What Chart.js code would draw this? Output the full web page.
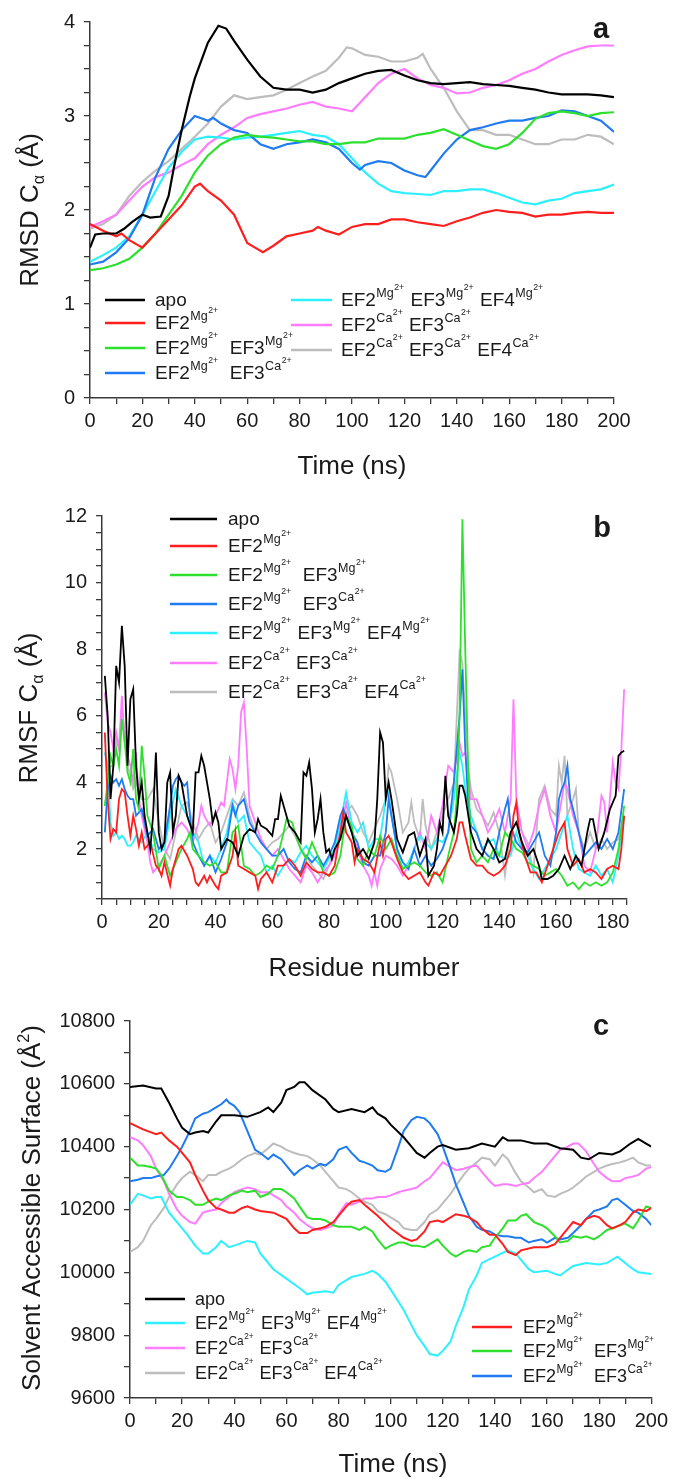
<!DOCTYPE html>
<html>
<head>
<meta charset="utf-8">
<script src="https://cdn.jsdelivr.net/npm/chart.js@4.4.1/dist/chart.umd.min.js"></script>
<style>
  html, body { margin: 0; padding: 0; background: #fff; }
  #wrap { position: relative; width: 673px; height: 1479px; }
  canvas { position: absolute; left: 0; }
</style>
</head>
<body>
<div id="wrap">
  <canvas id="chartA" width="673" height="480" style="top:0px"></canvas>
  <canvas id="chartB" width="673" height="500" style="top:480px"></canvas>
  <canvas id="chartC" width="673" height="499" style="top:980px"></canvas>
</div>
<script>
// series labels: [Ion] = superscript ion with 2+ on top
const seriesNames = ['apo', 'EF2[Mg]', 'EF2[Mg]  EF3[Mg]', 'EF2[Mg]  EF3[Ca]',
  'EF2[Mg] EF3[Mg] EF4[Mg]', 'EF2[Ca] EF3[Ca]', 'EF2[Ca] EF3[Ca] EF4[Ca]'];
const seriesColors = ['#000000', '#ff1e1e', '#2ee02e', '#1f7bf2', '#2cf0ff', '#ff7cff', '#bdbdbd'];

// ---- panel a: RMSD (ns, Å) ----
const rmsdApo = [[0,1.6],[2,1.74],[5,1.75],[10,1.75],[13,1.8],[16,1.87],[20,1.95],[23,1.92],[27,1.93],[30,2.15],[32,2.45],[35,2.85],[38,3.2],[40,3.4],[45,3.78],[49,3.96],[52,3.93],[55,3.8],[60,3.6],[65,3.42],[70,3.3],[75,3.28],[80,3.28],[85,3.25],[90,3.28],[95,3.35],[100,3.4],[105,3.45],[110,3.48],[115,3.49],[120,3.43],[125,3.38],[130,3.35],[135,3.34],[140,3.35],[145,3.36],[150,3.34],[155,3.33],[160,3.32],[165,3.3],[170,3.28],[175,3.25],[180,3.23],[185,3.23],[190,3.23],[195,3.22],[200,3.2]];
const rmsdMg = [[0,1.85],[5,1.78],[10,1.72],[12,1.75],[15,1.68],[20,1.6],[25,1.75],[30,1.9],[35,2.05],[40,2.25],[42,2.28],[45,2.2],[50,2.1],[55,1.95],[60,1.65],[63,1.6],[66,1.55],[70,1.62],[75,1.72],[80,1.75],[85,1.78],[87,1.82],[90,1.78],[95,1.74],[100,1.82],[105,1.85],[110,1.85],[115,1.9],[120,1.9],[125,1.87],[130,1.85],[135,1.83],[140,1.88],[145,1.92],[150,1.97],[155,2.0],[160,1.98],[165,1.97],[170,1.93],[175,1.95],[180,1.95],[185,1.97],[190,1.98],[195,1.97],[200,1.97]];
const rmsdMgMg = [[0,1.36],[5,1.38],[10,1.42],[15,1.48],[20,1.6],[25,1.75],[30,1.95],[35,2.15],[40,2.4],[45,2.58],[50,2.7],[55,2.77],[60,2.8],[65,2.78],[70,2.77],[75,2.75],[80,2.73],[85,2.73],[90,2.7],[95,2.7],[100,2.72],[105,2.72],[110,2.76],[115,2.76],[120,2.76],[125,2.8],[130,2.82],[135,2.86],[140,2.8],[145,2.74],[150,2.68],[155,2.65],[160,2.7],[165,2.82],[170,2.97],[175,3.03],[180,3.05],[185,3.03],[190,3.0],[195,3.03],[200,3.04]];
const rmsdMgCa = [[0,1.42],[5,1.45],[10,1.55],[15,1.7],[20,1.95],[25,2.35],[30,2.65],[35,2.85],[40,3.0],[43,2.97],[45,2.95],[47,2.98],[50,2.92],[55,2.85],[60,2.82],[65,2.7],[70,2.65],[75,2.7],[80,2.72],[85,2.75],[90,2.72],[95,2.65],[100,2.5],[103,2.43],[105,2.48],[110,2.52],[115,2.5],[120,2.42],[125,2.37],[128,2.35],[130,2.42],[135,2.6],[140,2.75],[145,2.85],[150,2.88],[155,2.92],[160,2.95],[165,2.95],[170,2.98],[175,3.0],[180,3.06],[185,3.05],[190,3.0],[195,2.95],[200,2.83]];
const rmsdMgMgMg = [[0,1.45],[5,1.52],[10,1.6],[15,1.72],[20,1.95],[25,2.2],[30,2.45],[35,2.62],[40,2.75],[45,2.78],[50,2.77],[55,2.75],[60,2.77],[65,2.78],[70,2.8],[75,2.82],[80,2.84],[85,2.8],[90,2.78],[95,2.7],[100,2.55],[105,2.4],[110,2.28],[115,2.2],[120,2.18],[125,2.17],[130,2.16],[135,2.2],[140,2.2],[145,2.22],[150,2.22],[155,2.18],[160,2.13],[165,2.08],[170,2.06],[175,2.1],[180,2.12],[185,2.18],[190,2.2],[195,2.22],[200,2.27]];
const rmsdCaCa = [[0,1.82],[5,1.88],[10,1.95],[15,2.1],[20,2.25],[25,2.35],[30,2.4],[35,2.48],[40,2.55],[45,2.7],[50,2.8],[55,2.88],[60,2.98],[65,3.02],[70,3.05],[75,3.08],[80,3.12],[85,3.15],[90,3.1],[95,3.08],[100,3.05],[105,3.2],[110,3.35],[115,3.45],[120,3.5],[125,3.4],[130,3.33],[135,3.3],[140,3.24],[145,3.25],[150,3.3],[155,3.33],[160,3.38],[165,3.45],[170,3.5],[175,3.58],[180,3.65],[185,3.7],[190,3.74],[195,3.75],[200,3.75]];
const rmsdCaCaCa = [[0,1.8],[5,1.85],[10,1.95],[15,2.15],[20,2.3],[25,2.42],[30,2.52],[35,2.65],[40,2.78],[45,2.92],[50,3.1],[55,3.22],[60,3.18],[65,3.2],[70,3.22],[75,3.28],[80,3.35],[85,3.42],[90,3.48],[95,3.62],[98,3.73],[100,3.72],[105,3.65],[110,3.63],[115,3.58],[120,3.58],[125,3.62],[127,3.66],[130,3.5],[135,3.3],[140,3.05],[145,2.85],[150,2.85],[155,2.8],[160,2.8],[165,2.75],[170,2.7],[175,2.7],[180,2.75],[185,2.75],[190,2.8],[195,2.78],[200,2.7]];

// ---- panel b: RMSF per residue (Å) ----
const rmsfApo = [[1,7.2],[2,6.0],[3,3.5],[4,4.5],[5,7.5],[6,7.0],[7,8.7],[8,7.5],[9,4.5],[10,6.5],[11,6.8],[12,4.5],[13,3.5],[14,4.0],[15,3.0],[16,2.5],[17,2.0],[18,3.0],[19,4.9],[20,2.5],[21,2.0],[22,2.2],[23,4.0],[24,4.3],[25,2.5],[26,3.0],[27,4.2],[28,4.0],[29,3.5],[30,3.0],[32,2.5],[33,4.3],[34,4.3],[35,4.8],[36,4.5],[37,4.0],[38,3.5],[39,2.8],[40,3.1],[41,2.8],[42,2.0],[44,2.3],[46,2.2],[48,1.8],[50,2.4],[52,2.6],[54,2.5],[55,2.9],[56,2.7],[58,2.6],[60,2.4],[61,2.9],[62,2.9],[63,3.6],[64,3.3],[65,3.0],[66,2.7],[68,2.5],[70,2.2],[71,4.3],[72,4.2],[73,4.6],[74,3.8],[75,2.5],[76,2.9],[77,3.5],[78,2.5],[79,1.9],[80,2.0],[81,1.7],[82,2.0],[84,2.3],[86,3.0],[88,2.5],[90,1.8],[92,2.0],[94,1.7],[96,2.2],[97,3.5],[98,5.5],[99,5.2],[100,3.5],[101,4.0],[102,3.5],[104,2.3],[106,1.9],[108,2.4],[110,2.5],[112,1.8],[114,2.3],[115,1.2],[117,1.5],[118,2.0],[119,2.8],[120,2.5],[121,4.2],[122,3.0],[124,2.5],[125,3.0],[126,3.9],[127,3.9],[128,3.6],[130,2.5],[132,2.0],[134,1.8],[136,2.3],[138,2.0],[140,1.6],[142,1.7],[144,2.5],[146,2.8],[148,2.2],[150,1.8],[152,2.0],[154,1.5],[155,1.1],[157,1.1],[159,1.2],[161,1.4],[163,1.8],[165,1.4],[167,1.8],[169,1.5],[171,2.5],[172,2.9],[173,2.9],[175,2.0],[177,2.5],[179,3.2],[181,3.6],[182,4.8],[183,4.9],[184,4.95]];
const rmsfMg = [[1,5.5],[2,3.5],[3,2.3],[4,2.6],[5,2.5],[6,3.5],[7,3.8],[8,3.7],[9,3.0],[10,2.4],[11,3.0],[12,2.6],[13,2.1],[14,2.5],[15,2.0],[17,2.2],[19,1.5],[20,1.4],[21,1.2],[22,1.6],[24,0.9],[25,1.4],[27,2.0],[28,2.1],[30,1.8],[32,1.4],[33,1.0],[34,0.9],[36,1.2],[37,1.0],[38,1.2],[40,0.9],[41,0.8],[42,1.2],[44,1.3],[46,1.8],[47,2.5],[48,1.5],[50,1.4],[52,1.3],[54,1.2],[55,0.8],[56,1.1],[58,1.3],[60,1.0],[62,1.5],[64,1.5],[66,1.7],[68,1.5],[70,1.2],[72,1.6],[74,1.4],[76,1.3],[78,1.3],[80,1.2],[82,1.5],[84,2.5],[85,3.1],[86,2.5],[88,2.2],[89,1.6],[90,2.0],[92,1.7],[94,1.6],[96,1.3],[98,2.2],[99,1.8],[100,2.3],[101,2.4],[102,2.2],[104,1.7],[106,1.3],[108,1.1],[110,1.2],[112,1.3],[114,1.0],[115,0.9],[117,1.3],[119,1.2],[121,1.5],[123,1.8],[125,2.3],[126,2.8],[127,2.8],[128,2.4],[130,1.7],[132,1.5],[134,1.5],[136,1.3],[138,1.2],[140,1.3],[142,1.5],[144,2.0],[145,3.0],[146,3.4],[147,2.5],[149,1.8],[151,1.3],[153,1.3],[155,1.0],[157,1.5],[159,2.0],[161,2.5],[163,2.8],[164,2.0],[166,1.5],[168,1.7],[170,1.3],[172,1.4],[174,1.3],[176,1.1],[178,1.4],[180,1.5],[182,1.4],[183,2.0],[184,3.0]];
const rmsfMgMg = [[1,3.3],[2,4.0],[3,4.8],[4,4.5],[5,5.0],[6,4.5],[7,5.9],[8,5.2],[9,4.3],[10,4.0],[11,5.0],[12,3.5],[13,3.2],[14,5.1],[15,4.2],[16,3.0],[18,2.5],[20,1.4],[22,1.8],[24,1.2],[26,1.6],[28,2.0],[30,2.3],[31,2.5],[32,2.0],[34,1.8],[36,1.6],[38,1.5],[40,1.6],[42,1.3],[44,1.3],[46,2.5],[48,2.7],[50,1.5],[52,1.4],[54,1.2],[56,1.3],[58,1.5],[60,1.4],[62,1.8],[64,2.5],[65,2.9],[67,2.8],[68,2.5],[70,2.0],[72,1.7],[74,2.2],[76,1.8],[78,1.3],[80,1.2],[82,1.3],[84,1.8],[86,3.0],[88,2.7],[90,1.7],[92,1.5],[94,2.0],[96,1.8],[98,2.4],[100,2.0],[102,2.3],[104,1.8],[106,1.4],[108,1.5],[110,1.6],[112,1.5],[114,1.3],[116,1.2],[118,1.3],[120,1.0],[122,1.8],[124,2.5],[125,3.5],[126,6.0],[127,11.9],[128,8.0],[129,4.5],[130,2.0],[132,1.6],[134,1.8],[136,1.6],[138,2.0],[140,1.8],[142,2.5],[144,2.3],[146,2.0],[148,1.9],[150,1.6],[152,1.5],[154,1.4],[156,1.2],[158,1.3],[160,1.4],[162,1.2],[164,0.9],[166,1.0],[168,0.8],[170,1.0],[172,0.9],[174,1.0],[176,0.9],[178,1.0],[180,1.3],[182,2.0],[184,3.3]];
const rmsfMgCa = [[1,2.5],[2,3.8],[3,4.2],[4,4.0],[5,4.1],[6,3.9],[7,4.1],[8,3.8],[9,3.6],[10,3.5],[11,3.5],[12,3.0],[14,3.2],[16,2.4],[18,2.6],[20,2.0],[22,2.2],[24,3.3],[25,3.9],[26,4.1],[27,4.2],[28,4.0],[29,3.9],[30,4.0],[31,3.0],[32,2.2],[34,1.8],[36,1.5],[38,1.8],[40,1.3],[42,1.7],[44,2.2],[46,3.3],[47,3.0],[48,3.3],[50,3.5],[52,2.8],[54,2.5],[56,2.2],[58,2.0],[60,1.8],[62,1.8],[64,2.0],[66,1.6],[68,1.4],[70,1.3],[72,1.8],[74,1.6],[76,1.8],[78,1.5],[80,1.8],[82,2.2],[84,3.0],[85,3.2],[86,3.0],[88,2.5],[90,2.2],[92,1.6],[94,1.5],[96,1.8],[98,1.8],[100,2.5],[101,3.5],[102,3.0],[104,2.0],[106,1.6],[108,1.4],[110,2.0],[112,1.5],[114,1.8],[116,1.5],[118,1.7],[120,2.0],[122,2.5],[124,4.0],[126,6.0],[127,7.4],[128,5.0],[129,3.5],[130,2.7],[132,2.5],[134,2.0],[136,1.8],[138,1.7],[140,2.5],[142,3.2],[143,3.5],[144,2.7],[146,2.2],[148,2.0],[150,1.9],[152,2.2],[154,2.5],[156,1.8],[158,1.5],[160,2.5],[161,3.5],[162,3.8],[163,4.0],[164,4.5],[165,3.5],[166,3.2],[168,2.5],[170,1.8],[172,2.0],[174,2.2],[176,2.0],[178,2.3],[180,2.0],[182,2.5],[184,3.8]];
const rmsfMgMgMg = [[1,4.9],[2,4.5],[3,2.8],[4,2.4],[5,2.5],[6,2.3],[7,2.4],[8,2.3],[9,2.1],[10,2.1],[11,2.2],[12,2.4],[13,2.3],[14,2.2],[16,2.5],[18,2.0],[20,1.9],[22,2.0],[24,3.0],[26,3.8],[28,3.3],[30,3.0],[32,2.5],[34,2.2],[36,1.5],[38,1.8],[40,1.6],[42,2.0],[44,2.5],[46,3.4],[48,2.8],[50,3.0],[52,2.2],[54,2.0],[56,1.8],[58,1.3],[60,1.5],[62,1.2],[64,1.5],[66,1.7],[68,1.6],[70,1.9],[72,2.1],[74,1.8],[76,1.6],[78,1.4],[80,1.7],[82,2.0],[84,2.8],[86,3.7],[88,2.8],[90,2.5],[92,2.8],[94,2.0],[96,2.3],[98,2.3],[100,3.5],[101,3.7],[102,3.0],[104,2.0],[106,1.4],[108,1.6],[110,2.0],[112,2.4],[114,2.2],[116,2.0],[118,2.3],[120,2.2],[122,2.5],[124,3.5],[126,4.9],[127,4.5],[128,3.8],[130,3.0],[132,2.5],[134,2.0],[136,2.2],[138,2.3],[140,1.8],[142,1.7],[144,1.8],[146,2.5],[148,2.0],[150,1.8],[152,1.4],[154,1.1],[156,1.4],[158,1.7],[160,2.0],[162,2.5],[164,3.0],[166,2.0],[168,1.4],[170,1.3],[172,1.2],[174,1.5],[176,1.2],[178,1.4],[180,1.0],[182,1.8],[184,3.0]];
const rmsfCaCa = [[1,6.7],[2,5.8],[3,5.5],[4,5.0],[5,5.5],[6,5.0],[7,6.6],[8,5.2],[9,4.8],[10,4.5],[11,4.0],[12,4.9],[13,3.5],[14,3.0],[15,2.6],[16,2.2],[17,1.6],[18,1.3],[20,1.5],[22,1.8],[24,2.2],[26,2.6],[28,2.8],[30,2.6],[32,2.2],[34,2.8],[35,3.3],[36,3.0],[38,2.7],[40,3.0],[42,3.4],[43,3.3],[44,4.0],[45,4.7],[46,4.4],[47,3.8],[48,4.5],[49,6.1],[50,6.4],[51,5.0],[52,3.3],[54,2.8],[56,2.3],[58,2.0],[60,1.8],[62,2.0],[64,1.7],[66,1.4],[68,1.2],[70,1.0],[72,1.5],[74,1.3],[76,1.0],[78,1.3],[80,1.5],[82,1.8],[84,2.5],[86,3.4],[88,2.5],[90,2.0],[92,1.5],[94,1.2],[95,0.9],[96,1.3],[97,0.9],[98,1.4],[100,1.8],[102,1.7],[104,1.5],[106,1.2],[108,1.5],[110,2.0],[112,2.5],[114,2.0],[116,3.0],[118,2.5],[120,3.3],[122,4.5],[124,4.3],[126,5.2],[127,4.8],[128,4.9],[129,4.3],[130,3.5],[132,3.5],[134,3.0],[136,2.5],[138,2.8],[140,3.2],[142,2.5],[144,3.5],[145,6.5],[146,3.5],[148,2.5],[150,2.0],[152,2.5],[154,3.3],[156,3.8],[158,3.0],[160,2.5],[162,3.5],[163,4.0],[164,3.8],[166,3.0],[168,2.5],[170,1.5],[172,1.3],[174,2.0],[176,3.6],[177,3.4],[178,2.5],[180,4.6],[181,4.0],[182,3.8],[183,5.0],[184,6.8]];
const rmsfCaCaCa = [[1,3.3],[2,3.8],[3,4.5],[4,4.5],[5,5.3],[6,5.0],[7,6.2],[8,5.5],[9,4.5],[10,4.2],[11,3.8],[12,4.0],[14,3.5],[16,3.5],[18,3.8],[20,2.8],[22,2.0],[24,1.7],[26,2.5],[28,3.3],[30,3.4],[32,2.8],[34,2.3],[36,2.6],[38,2.8],[40,2.2],[42,2.5],[44,3.0],[46,3.5],[48,3.3],[50,3.7],[52,3.0],[54,2.5],[56,2.2],[58,2.0],[60,2.2],[62,2.3],[64,2.5],[66,2.7],[68,2.4],[70,2.0],[72,1.8],[74,1.5],[76,1.3],[78,1.1],[80,1.5],[82,2.0],[84,2.5],[86,3.1],[88,3.3],[90,3.0],[92,2.5],[94,2.2],[96,2.6],[98,3.0],[100,3.5],[101,4.5],[102,4.3],[104,3.5],[106,2.5],[108,2.8],[109,3.4],[110,2.8],[112,2.3],[113,3.5],[114,2.7],[116,2.0],[118,2.5],[120,3.0],[122,3.5],[124,4.0],[126,7.9],[127,7.6],[128,6.0],[129,4.5],[130,3.8],[132,3.2],[134,3.0],[136,2.7],[138,3.1],[140,2.5],[142,1.2],[144,2.5],[146,2.8],[148,2.5],[150,2.2],[152,1.3],[154,3.5],[156,3.9],[158,3.2],[160,3.0],[161,4.5],[162,4.0],[163,4.8],[164,3.0],[166,3.5],[167,3.8],[168,2.5],[170,2.0],[172,2.5],[174,2.0],[176,2.3],[178,2.0],[180,2.2],[182,2.3],[184,3.0]];

// ---- panel c: SASA (ns, Å²) ----
const sasaApo = [[0,10590],[5,10595],[10,10585],[12,10585],[15,10540],[18,10490],[20,10460],[23,10440],[25,10445],[28,10450],[30,10445],[33,10480],[35,10500],[40,10500],[45,10495],[50,10510],[53,10525],[55,10510],[58,10540],[60,10580],[63,10590],[65,10605],[67,10605],[70,10580],[75,10550],[78,10520],[80,10510],[85,10520],[90,10510],[93,10525],[95,10505],[98,10490],[100,10470],[105,10430],[108,10400],[110,10380],[113,10365],[115,10380],[118,10400],[120,10405],[125,10390],[130,10395],[135,10410],[140,10400],[143,10430],[145,10420],[150,10420],[155,10410],[160,10410],[165,10395],[170,10390],[173,10365],[176,10360],[180,10380],[185,10375],[188,10385],[192,10410],[195,10425],[198,10410],[200,10400]];
const sasaMg = [[0,10475],[5,10455],[10,10440],[12,10445],[15,10420],[18,10400],[20,10380],[23,10350],[25,10310],[28,10260],[30,10230],[33,10205],[35,10200],[38,10190],[40,10190],[43,10205],[45,10210],[48,10200],[50,10195],[55,10190],[60,10170],[63,10140],[65,10125],[68,10125],[70,10135],[73,10140],[75,10145],[78,10160],[80,10180],[83,10210],[85,10225],[88,10230],[90,10215],[95,10180],[100,10140],[105,10110],[108,10100],[110,10105],[113,10130],[115,10160],[118,10165],[120,10160],[123,10175],[125,10185],[128,10180],[130,10175],[133,10160],[135,10140],[138,10120],[140,10120],[143,10090],[145,10065],[148,10055],[150,10070],[155,10080],[160,10080],[163,10090],[165,10110],[168,10140],[170,10160],[173,10150],[175,10170],[178,10180],[180,10175],[183,10150],[185,10140],[188,10150],[190,10160],[193,10190],[195,10200],[198,10195],[200,10205]];
const sasaMgMg = [[0,10365],[3,10340],[5,10340],[8,10335],[10,10330],[12,10310],[15,10260],[18,10240],[20,10240],[23,10230],[25,10215],[28,10215],[30,10225],[33,10235],[35,10230],[38,10245],[40,10250],[43,10260],[45,10255],[48,10260],[50,10240],[53,10250],[55,10265],[58,10265],[60,10255],[63,10235],[65,10210],[68,10175],[70,10170],[73,10170],[75,10165],[78,10150],[80,10145],[85,10145],[88,10135],[90,10145],[93,10130],[95,10105],[98,10075],[100,10085],[103,10095],[105,10095],[108,10085],[110,10085],[113,10080],[115,10090],[118,10105],[120,10085],[123,10060],[125,10050],[128,10065],[130,10070],[133,10065],[135,10080],[138,10085],[140,10110],[143,10140],[145,10165],[148,10165],[150,10180],[152,10185],[155,10160],[158,10150],[160,10140],[163,10115],[165,10095],[168,10100],[170,10115],[173,10110],[175,10115],[178,10105],[180,10115],[183,10135],[185,10140],[188,10150],[190,10155],[193,10140],[195,10165],[198,10210],[200,10205]];
const sasaMgCa = [[0,10290],[3,10295],[5,10300],[8,10300],[10,10305],[13,10310],[15,10330],[18,10370],[20,10400],[23,10450],[25,10490],[28,10505],[30,10510],[33,10525],[35,10535],[37,10550],[38,10540],[40,10530],[42,10510],[45,10450],[48,10390],[50,10380],[53,10360],[55,10375],[58,10360],[60,10340],[63,10310],[65,10325],[68,10340],[70,10330],[73,10345],[75,10340],[78,10360],[80,10390],[83,10400],[85,10380],[88,10355],[90,10350],[93,10340],[95,10325],[98,10320],[100,10330],[103,10400],[105,10450],[108,10485],[110,10495],[113,10490],[115,10475],[118,10440],[120,10400],[123,10330],[125,10280],[128,10220],[130,10180],[133,10145],[135,10135],[138,10130],[140,10120],[143,10115],[145,10115],[148,10110],[150,10110],[153,10095],[155,10100],[158,10105],[160,10095],[163,10110],[165,10105],[168,10110],[170,10125],[173,10150],[175,10170],[178,10195],[180,10200],[183,10210],[185,10230],[187,10235],[190,10215],[193,10195],[195,10190],[198,10170],[200,10150]];
const sasaMgMgMg = [[0,10215],[3,10250],[5,10245],[8,10235],[10,10240],[12,10240],[15,10190],[20,10140],[22,10120],[25,10085],[28,10060],[30,10060],[33,10080],[35,10100],[38,10080],[40,10085],[45,10100],[48,10095],[50,10060],[55,10010],[60,9980],[65,9950],[68,9930],[70,9935],[75,9940],[78,9935],[80,9960],[85,9985],[90,9995],[93,10005],[95,9995],[98,9970],[100,9945],[105,9880],[110,9800],[113,9765],[115,9740],[118,9735],[120,9750],[123,9780],[125,9830],[128,9890],[130,9945],[133,9990],[135,10030],[140,10050],[145,10070],[148,10060],[150,10040],[153,10010],[155,10000],[160,10005],[163,9995],[165,9990],[170,10020],[175,10030],[180,10025],[183,10030],[187,10050],[190,10030],[193,10010],[195,10000],[200,9995]];
const sasaCaCa = [[0,10430],[3,10420],[5,10405],[8,10370],[10,10330],[13,10290],[15,10250],[18,10200],[20,10180],[23,10160],[25,10155],[28,10190],[30,10195],[33,10200],[35,10220],[38,10240],[40,10255],[43,10265],[45,10270],[48,10265],[50,10255],[53,10255],[55,10245],[58,10230],[60,10210],[63,10190],[65,10170],[68,10150],[70,10140],[73,10135],[75,10140],[78,10150],[80,10185],[83,10220],[85,10215],[88,10225],[90,10235],[93,10235],[95,10240],[98,10240],[100,10245],[103,10255],[105,10260],[108,10265],[110,10270],[113,10290],[115,10300],[118,10330],[120,10350],[122,10340],[125,10325],[128,10330],[130,10335],[133,10340],[135,10320],[138,10290],[140,10275],[143,10280],[145,10280],[148,10275],[150,10280],[153,10285],[155,10300],[158,10320],[160,10340],[163,10370],[165,10390],[168,10400],[170,10410],[172,10410],[175,10385],[178,10345],[180,10320],[183,10300],[185,10290],[188,10290],[190,10300],[193,10305],[195,10310],[198,10330],[200,10335]];
const sasaCaCaCa = [[0,10065],[3,10080],[5,10100],[8,10150],[10,10170],[13,10205],[15,10240],[18,10280],[20,10300],[23,10320],[25,10310],[28,10290],[30,10310],[33,10310],[35,10320],[38,10330],[40,10340],[43,10360],[45,10370],[48,10380],[50,10375],[53,10395],[55,10410],[58,10400],[60,10390],[63,10380],[65,10375],[68,10370],[70,10360],[73,10340],[75,10320],[78,10290],[80,10270],[83,10265],[85,10255],[88,10235],[90,10225],[93,10215],[95,10195],[98,10185],[100,10175],[103,10160],[105,10140],[108,10135],[110,10135],[113,10160],[115,10185],[118,10200],[120,10220],[123,10250],[125,10275],[128,10310],[130,10330],[133,10350],[135,10365],[138,10360],[140,10340],[143,10375],[145,10360],[148,10315],[150,10290],[153,10270],[155,10255],[158,10265],[160,10245],[163,10240],[165,10250],[168,10260],[170,10270],[173,10290],[175,10305],[178,10320],[180,10330],[183,10340],[185,10345],[188,10350],[190,10355],[193,10365],[195,10350],[198,10340],[200,10340]];

const FONT = '"Liberation Sans", Arial, Helvetica, sans-serif';
const AXIS = '#3a3a3a';
const INK = '#1a1a1a';

// text with superscript ions, e.g. EF2[Mg] -> EF2^Mg^2+
function drawRich(ctx, str, x, y, fs) {
  const parts = str.split(/(\[\w+\])/).filter(p => p !== '');
  let cx = x;
  ctx.textAlign = 'left';
  ctx.textBaseline = 'alphabetic';
  parts.forEach(p => {
    if (p[0] === '[') {
      const ion = p.slice(1, -1);
      ctx.font = (fs * 0.66) + 'px ' + FONT;
      ctx.fillText(ion, cx + 0.5, y - fs * 0.5);
      cx += ctx.measureText(ion).width + 0.5;
      ctx.font = (fs * 0.46) + 'px ' + FONT;
      ctx.fillText('2+', cx + 0.5, y - fs * 0.85);
      cx += ctx.measureText('2+').width + 1.5;
    } else {
      ctx.font = fs + 'px ' + FONT;
      ctx.fillText(p, cx, y);
      cx += ctx.measureText(p).width;
    }
  });
}

// title made of segments {t, sub, sup}; rotated if vertical
function drawTitle(ctx, segs, cx, cy, fs, vertical) {
  ctx.save();
  ctx.translate(cx, cy);
  if (vertical) ctx.rotate(-Math.PI / 2);
  ctx.textBaseline = 'alphabetic';
  ctx.textAlign = 'left';
  const sizeOf = s => (s.sub || s.sup) ? fs * 0.62 : fs;
  let total = 0;
  segs.forEach(s => { ctx.font = sizeOf(s) + 'px ' + FONT; total += ctx.measureText(s.t).width; });
  let x = -total / 2;
  const base = fs * 0.36;
  segs.forEach(s => {
    ctx.font = sizeOf(s) + 'px ' + FONT;
    let dy = 0;
    if (s.sub) dy = fs * 0.22;
    if (s.sup) dy = -fs * 0.45;
    ctx.fillText(s.t, x, base + dy);
    x += ctx.measureText(s.t).width;
  });
  ctx.restore();
}

const decorPlugin = {
  id: 'decor',
  afterDraw(chart) {
    const o = chart.options.plugins.decor;
    const ctx = chart.ctx;
    ctx.save();
    ctx.fillStyle = INK;
    o.legend.forEach(it => {
      ctx.strokeStyle = seriesColors[it.s];
      ctx.lineWidth = 2.6;
      ctx.beginPath();
      ctx.moveTo(it.x1, it.y);
      ctx.lineTo(it.x2, it.y);
      ctx.stroke();
      drawRich(ctx, seriesNames[it.s], it.tx, it.y + o.legendFont * 0.33, o.legendFont);
    });
    drawTitle(ctx, o.yTitle, o.yTitleX, o.yTitleY, 26, true);
    drawTitle(ctx, [{ t: o.xTitle }], o.xTitleX, o.xTitleY, 26, false);
    ctx.font = 'bold 29px ' + FONT;
    ctx.textAlign = 'center';
    ctx.textBaseline = 'alphabetic';
    ctx.fillText(o.letter, o.letterX, o.letterY);
    ctx.restore();
  }
};

function legendCol(series, x1, x2, tx, ys) {
  return series.map((s, i) => ({ s: s, x1: x1, x2: x2, tx: tx, y: ys[i] }));
}

function makeChart(id, p) {
  const canvas = document.getElementById(id);
  const W = canvas.width, H = canvas.height;
  const tickFont = { family: FONT, size: 20 };
  const gridStyle = { drawOnChartArea: false, drawTicks: true, tickLength: 6, color: AXIS, lineWidth: 1.3 };
  return new Chart(canvas, {
    type: 'line',
    data: {
      datasets: p.series.map((pts, i) => ({
        label: seriesNames[i],
        data: pts.map(d => ({ x: d[0], y: d[1] })),
        borderColor: seriesColors[i],
        borderWidth: p.lineWidth,
        pointRadius: 0,
        tension: 0,
        fill: false
      }))
    },
    options: {
      responsive: false,
      animation: false,
      devicePixelRatio: 1,
      layout: { padding: { left: 0, top: p.top, right: W - p.right, bottom: 0 } },
      scales: {
        x: {
          type: 'linear', min: p.xMin, max: p.xMax,
          afterFit: s => { s.height = H - p.bottom; },
          ticks: {
            stepSize: p.xStep, autoSkip: false, maxRotation: 0, font: tickFont, color: INK, padding: 5,
            callback: v => (Math.abs(v % p.xLabelEvery) < 1e-6 ? String(v) : '')
          },
          grid: gridStyle,
          border: { color: AXIS, width: 1.5 }
        },
        y: {
          type: 'linear', min: p.yMin, max: p.yMax,
          afterFit: s => { s.width = p.left; },
          ticks: {
            stepSize: p.yStep, autoSkip: false, font: tickFont, color: INK, padding: 9,
            callback: v => (Math.abs(v % p.yLabelEvery) < 1e-6 ? String(v) : '')
          },
          grid: gridStyle,
          border: { color: AXIS, width: 1.5 }
        }
      },
      plugins: {
        legend: { display: false },
        tooltip: { enabled: false },
        decor: p.decor
      }
    },
    plugins: [decorPlugin]
  });
}

makeChart('chartA', {
  series: [rmsdApo, rmsdMg, rmsdMgMg, rmsdMgCa, rmsdMgMgMg, rmsdCaCa, rmsdCaCaCa],
  lineWidth: 2.2,
  left: 90, right: 614, top: 22, bottom: 398,
  xMin: 0, xMax: 200, xStep: 10, xLabelEvery: 20,
  yMin: 0, yMax: 4, yStep: 0.25, yLabelEvery: 1,
  decor: {
    legendFont: 19,
    legend: legendCol([0, 1, 2, 3], 105, 145, 155, [300, 323, 348, 373])
      .concat(legendCol([4, 5, 6], 291, 332, 341, [300, 325, 350])),
    yTitle: [{ t: 'RMSD C' }, { t: '\u03b1', sub: true }, { t: ' (\u00c5)' }],
    yTitleX: 29, yTitleY: 210,
    xTitle: 'Time (ns)', xTitleX: 352, xTitleY: 465,
    letter: 'a', letterX: 601, letterY: 38
  }
});

makeChart('chartB', {
  series: [rmsfApo, rmsfMg, rmsfMgMg, rmsfMgCa, rmsfMgMgMg, rmsfCaCa, rmsfCaCaCa],
  lineWidth: 1.8,
  left: 102, right: 627, top: 36, bottom: 419,
  xMin: 0, xMax: 185, xStep: 5, xLabelEvery: 20,
  yMin: 0.5, yMax: 12, yStep: 0.5, yLabelEvery: 2,
  decor: {
    legendFont: 19,
    legend: legendCol([0, 1, 2, 3, 4, 5, 6], 170, 217, 228, [39, 66, 95, 124, 153, 183, 212]),
    yTitle: [{ t: 'RMSF C' }, { t: '\u03b1', sub: true }, { t: ' (\u00c5)' }],
    yTitleX: 28, yTitleY: 228,
    xTitle: 'Residue number', xTitleX: 364, xTitleY: 487,
    letter: 'b', letterX: 602, letterY: 57
  }
});

makeChart('chartC', {
  series: [sasaApo, sasaMg, sasaMgMg, sasaMgCa, sasaMgMgMg, sasaCaCa, sasaCaCaCa],
  lineWidth: 2,
  left: 130, right: 655, top: 41, bottom: 418,
  xMin: 0, xMax: 200, xStep: 10, xLabelEvery: 20,
  yMin: 9600, yMax: 10800, yStep: 100, yLabelEvery: 200,
  decor: {
    legendFont: 18,
    legend: legendCol([0, 4, 5, 6], 145, 185, 195, [319, 343, 368, 393])
      .concat(legendCol([1, 2, 3], 472, 512, 523, [347, 371, 396])),
    yTitle: [{ t: 'Solvent Accessible Surface (\u00c5' }, { t: '2', sup: true }, { t: ')' }],
    yTitleX: 31, yTitleY: 228,
    xTitle: 'Time (ns)', xTitleX: 393, xTitleY: 483,
    letter: 'c', letterX: 601, letterY: 55
  }
});
</script>
</body>
</html>
